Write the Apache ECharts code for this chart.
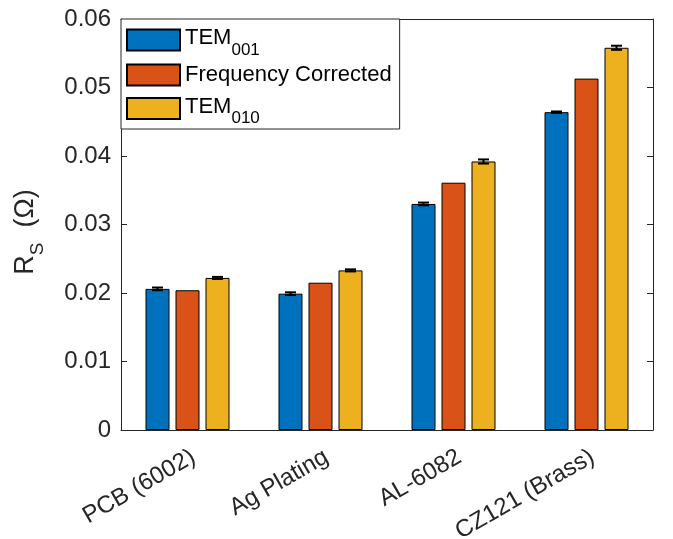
<!DOCTYPE html>
<html>
<head>
<meta charset="utf-8">
<script src="https://cdn.jsdelivr.net/npm/echarts@6/dist/echarts.min.js"></script>
<style>
html,body{margin:0;padding:0;background:#fff;}
#chart{width:673px;height:539px;}
</style>
</head>
<body>
<div id="chart"></div>
<script>
// ---- data ----
const categories = ['PCB (6002)', 'Ag Plating', 'AL-6082', 'CZ121 (Brass)'];
const seriesNames = ['TEM001', 'Frequency Corrected', 'TEM010'];
const tem001 = [0.0206, 0.0199, 0.0330, 0.0464];
const freqCorrected = [0.0204, 0.0215, 0.0361, 0.0513];
const tem010 = [0.0222, 0.0233, 0.0392, 0.0558];
const err001 = [0.0002, 0.0002, 0.0002, 0.0001];
const err010 = [0.00015, 0.00015, 0.0003, 0.0003];
const yTicks = [0, 0.01, 0.02, 0.03, 0.04, 0.05, 0.06];

// ---- style ----
const FONT = 'Liberation Sans, Arial, Helvetica, sans-serif';
const INK = '#262626';
const COLORS = ['#0072BD', '#D95319', '#EDB120'];
const BAR_W = 24;
const BAR_GAP = 0.25; // fraction of bar width
const STEP = BAR_W * (1 + BAR_GAP);

const chart = echarts.init(document.getElementById('chart'));

function errorSeries(vals, errs, slot) {
  return {
    type: 'custom',
    name: seriesNames[slot] + '_err',
    silent: true,
    z: 5,
    data: vals.map((v, i) => [i, v, errs[i]]),
    renderItem: function (params, api) {
      const i = api.value(0), v = api.value(1), e = api.value(2);
      const x = api.coord([i, v])[0] + (slot - 1) * STEP;
      const yt = api.coord([i, v + e])[1];
      const yb = api.coord([i, v - e])[1];
      const cap = 5.5;
      const st = { stroke: '#000', lineWidth: 2 };
      return {
        type: 'group',
        children: [
          { type: 'line', shape: { x1: x, y1: yt, x2: x, y2: yb }, style: st },
          { type: 'line', shape: { x1: x - cap, y1: yt, x2: x + cap, y2: yt }, style: st },
          { type: 'line', shape: { x1: x - cap, y1: yb, x2: x + cap, y2: yb }, style: st }
        ]
      };
    }
  };
}

function barSeries(name, vals, color) {
  return {
    type: 'bar',
    name: name,
    data: vals,
    barWidth: BAR_W,
    barGap: (BAR_GAP * 100) + '%',
    itemStyle: { color: color, borderColor: '#000', borderWidth: 1 },
    emphasis: { disabled: true }
  };
}

const legendRich = {
  a: { fontFamily: FONT, fontSize: 22, color: '#000', height: 30, lineHeight: 34, verticalAlign: 'top' },
  s: { fontFamily: FONT, fontSize: 17, color: '#000', height: 14, lineHeight: 34, verticalAlign: 'bottom' },
  f: { fontFamily: FONT, fontSize: 22, color: '#000', lineHeight: 34 }
};

const option = {
  backgroundColor: '#fff',
  animation: false,
  grid: { left: 121, right: 20, top: 19, bottom: 109, containLabel: false, outerBoundsMode: 'none' },
  legend: {
    orient: 'vertical',
    left: 121,
    top: 19,
    data: seriesNames,
    itemWidth: 53,
    itemHeight: 21,
    itemGap: 5,
    icon: 'rect',
    padding: [4, 8, 2, 5],
    borderColor: INK,
    borderWidth: 1,
    borderRadius: 0,
    backgroundColor: '#fff',
    selectedMode: false,
    formatter: function (n) {
      if (n === 'TEM001') return '{a|TEM}{s|001}';
      if (n === 'TEM010') return '{a|TEM}{s|010}';
      return '{f|' + n + '}';
    },
    textStyle: { rich: legendRich }
  },
  xAxis: [
    {
      type: 'category',
      data: categories,
      position: 'bottom',
      axisLine: { show: true, lineStyle: { color: INK, width: 1 } },
      axisTick: { show: true, inside: true, length: 5, alignWithLabel: true, lineStyle: { color: INK } },
      axisLabel: {
        rotate: 30,
        fontFamily: FONT,
        fontSize: 24,
        color: INK,
        margin: 15,
        verticalAlign: 'top',
        interval: 0
      },
      splitLine: { show: false }
    },
    {
      type: 'category',
      data: categories,
      position: 'top',
      axisLine: { show: true, onZero: false, lineStyle: { color: INK, width: 1 } },
      axisTick: { show: false },
      axisLabel: { show: false },
      splitLine: { show: false }
    }
  ],
  yAxis: [
    {
      type: 'value',
      min: 0,
      max: 0.06,
      interval: 0.01,
      name: '{r|R}{s|S}{r|  (Ω)}',
      nameLocation: 'middle',
      nameGap: 73,
      nameRotate: 90,
      nameTextStyle: {
        color: INK,
        padding: [0, 15, 0, 0],
        rich: {
          r: { fontFamily: FONT, fontSize: 27, color: INK, height: 28, lineHeight: 36, verticalAlign: 'top' },
          s: { fontFamily: FONT, fontSize: 19, color: INK, height: 20, lineHeight: 36, verticalAlign: 'bottom' }
        }
      },
      axisLine: { show: true, lineStyle: { color: INK, width: 1 } },
      axisTick: { show: true, inside: true, length: 6, lineStyle: { color: INK } },
      axisLabel: {
        fontFamily: FONT,
        fontSize: 24,
        color: INK,
        margin: 10,
        customValues: yTicks,
        formatter: function (v) { return String(+v.toFixed(2)); }
      },
      splitLine: { show: false }
    },
    {
      type: 'value',
      min: 0,
      max: 0.06,
      interval: 0.01,
      position: 'right',
      axisLine: { show: true, onZero: false, lineStyle: { color: INK, width: 1 } },
      axisTick: { show: true, inside: true, length: 6, lineStyle: { color: INK } },
      axisLabel: { show: false },
      splitLine: { show: false }
    }
  ],
  series: [
    barSeries(seriesNames[0], tem001, COLORS[0]),
    barSeries(seriesNames[1], freqCorrected, COLORS[1]),
    barSeries(seriesNames[2], tem010, COLORS[2]),
    errorSeries(tem001, err001, 0),
    errorSeries(tem010, err010, 2)
  ]
};

chart.setOption(option);
</script>
</body>
</html>
